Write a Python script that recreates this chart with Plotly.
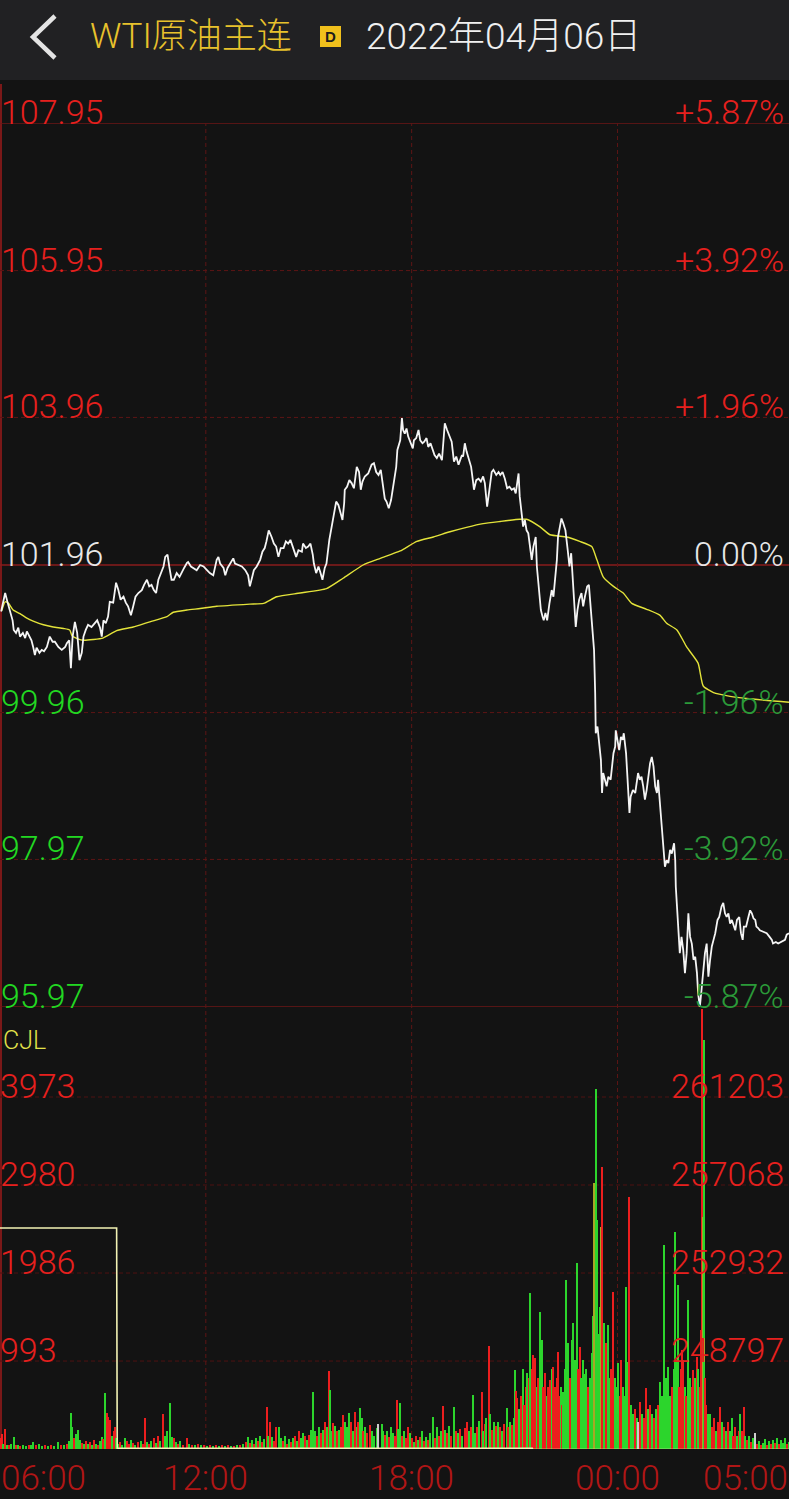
import plotly.graph_objects as go

W, H = 789, 1499

# ---------------- data ----------------
prev_close = 101.96
price_ticks = [107.95, 105.95, 103.96, 101.96, 99.96, 97.97, 95.97]
pct_labels = ["+5.87%", "+3.92%", "+1.96%", "0.00%", "-1.96%", "-3.92%", "-5.87%"]
vol_ticks = [3973, 2980, 1986, 993]
oi_ticks = [261203, 257068, 252932, 248797]
time_ticks = [0, 360, 720, 1080, 1380]          # minutes after 06:00
time_labels = ["06:00", "12:00", "18:00", "00:00", "05:00"]

price_min = [2,9,13,17,22,24,28,32,35,40,44,47,51,55,58,61,64,69,73,77,82,87,92,96,102,108,114,117,121,124,
127,131,135,139,143,146,150,154,160,166,170,175,178,181,185,189,192,198,203,207,211,216,220,224,229,233,237,242,248,252,
257,261,265,269,273,277,282,286,289,293,296,300,304,309,314,318,322,327,329,334,338,344,350,
356,362,367,373,379,382,385,391,394,398,402,408,411,417,423,429,434,437,440,444,449,455,459,463,466,470,475,479,483,487,
491,496,500,504,508,513,518,522,528,530,535,539,543,547,549,553,557,560,564,568,571,576,580,584,588,592,596,599,602,603,
607,611,615,619,624,628,631,634,638,644,650,654,658,662,666,670,673,676,680,684,688,693,695,700,
703,705,708,711,714,718,722,724,728,732,735,739,742,746,749,753,757,760,764,768,773,775,778,782,787,790,794,798,802,805,
808,810,813,816,821,824,827,829,833,837,841,845,848,852,856,860,863,868,872,875,879,883,887,891,895,899,902,905,907,909,
912,915,918,921,924,927,930,933,937,939,941,946,949,951,954,957,961,965,968,971,974,976,979,982,985,989,993,996,999,1002,
1004,1007,1010,1013,1017,1020,1023,1027,1030,1033,1037,1039,
1041,1042,1045,1047,1051,1053,1055,1058,1061,1064,1068,1073,1076,1077,1080,1083,1086,1089,1091,1095,
1097,1099,1101,1103,1107,1111,1114,1116,1119,1122,1125,1128,1131,1134,1137,1140,1143,1146,1149,1151,
1154,1157,1160,1163,1166,1169,1172,1175,1179,1181,1182,1185,1187,1189,1192,1195,1198,1201,1204,1207,
1210,1213,1216,1219,1221,1224,1227,1230,1233,1236,1239,1242,1245,1248,1251,1255,1258,1262,1265,1268,
1271,1274,1277,1280,1283,1286,1289,1293,1296,1299,1301,1305,1309,1312,1315,1318,1321,1323,1326,1329,
1335,1341,1346,1350,1352,1357,1361,1367,1373,1376,1380]

price_val = [101.33,101.58,101.46,101.35,101.21,101.08,101.04,101.11,100.99,101.04,100.97,101.06,100.99,100.94,100.85,100.74,100.84,100.77,100.81,100.79,
100.85,100.99,100.92,100.92,100.85,100.81,100.85,100.90,100.94,100.56,100.99,101.19,101.04,100.67,100.77,100.99,101.08,101.15,101.12,101.17,
101.21,101.11,100.99,101.21,101.17,101.26,101.46,101.45,101.72,101.62,101.49,101.53,101.45,101.40,101.28,101.40,101.53,101.58,101.62,101.69,
101.76,101.67,101.69,101.62,101.58,101.76,101.85,101.94,102.07,102.10,101.94,101.76,101.76,101.85,101.80,101.87,101.92,101.99,102.00,101.94,
101.92,101.89,101.96,
101.94,101.89,101.85,101.82,102.03,102.07,101.98,101.92,101.82,101.92,101.98,102.05,101.98,101.96,101.94,101.89,101.82,101.67,101.78,101.89,
101.94,102.03,102.14,102.19,102.28,102.43,102.34,102.25,102.21,102.07,102.19,102.19,102.28,102.25,102.30,102.19,102.07,102.16,102.14,102.25,
102.19,102.21,102.25,102.10,101.98,101.85,101.94,101.87,101.76,101.92,101.98,102.30,102.46,102.66,102.82,102.77,102.64,102.57,102.80,102.98,
103.02,103.11,103.07,103.00,103.29,103.22,102.98,103.09,103.16,103.20,103.32,103.34,103.22,103.18,103.25,103.04,102.86,102.82,102.73,102.84,
103.07,103.29,103.52,103.65,
103.95,103.79,103.74,103.81,103.70,103.63,103.54,103.65,103.68,103.79,103.65,103.61,103.63,103.68,103.56,103.61,103.52,103.45,103.41,103.47,
103.38,103.65,103.88,103.79,103.68,103.63,103.36,103.43,103.32,103.38,103.45,103.43,103.61,103.50,103.38,103.29,103.11,102.98,103.11,103.13,
103.09,103.16,103.07,102.75,102.98,103.22,103.25,103.18,103.22,103.18,103.22,103.13,103.00,103.02,102.98,103.00,102.93,103.11,103.20,102.89,
102.66,102.48,102.57,102.43,102.39,102.16,102.03,102.21,102.34,101.94,101.76,101.35,101.26,101.21,101.31,101.21,101.44,101.62,101.53,101.76,
102.03,102.34,102.48,102.59,102.53,102.43,102.16,101.94,102.12,101.71,101.53,101.12,101.35,101.49,101.58,101.40,101.53,101.67,101.69,101.40,
100.99,100.81,
100.22,99.68,99.77,99.63,99.32,98.87,99.14,99.05,98.96,99.09,99.05,99.41,99.50,99.72,99.59,99.45,99.63,99.59,99.68,99.41,
99.14,98.87,98.60,98.82,98.91,98.87,99.09,99.14,99.05,99.09,98.96,98.78,98.91,99.14,99.27,99.36,99.23,98.96,98.87,99.05,
98.78,98.50,98.14,97.87,97.96,97.92,98.10,98.05,98.19,97.96,97.60,97.15,96.83,96.70,96.92,96.74,96.43,96.70,97.24,96.92,
96.83,96.61,96.65,96.43,96.16,95.97,96.20,96.47,96.70,96.83,96.38,96.61,96.79,96.88,96.97,97.15,97.19,97.33,97.38,97.24,
97.19,97.24,97.10,97.15,97.06,97.01,97.15,97.19,96.97,96.88,97.06,97.06,97.19,97.28,97.24,97.17,97.15,97.06,97.04,97.01,
96.99,96.97,96.92,96.88,96.83,96.85,96.83,96.85,96.88,96.95,96.97]

avg_min = [3,9,15,23,35,47,58,76,93,111,122,126,136,146,163,180,204,233,262,292,
303,327,350,379,437,461,484,525,571,600,635,665,700,729,758,787,816,845,875,909,
921,944,962,991,1014,1035,1044,1055,1073,1090,1105,1131,1154,1166,1184,1201,1221,1230,1248,1277,
1306,1380]
avg_val = [101.34,101.46,101.44,101.35,101.30,101.24,101.20,101.15,101.12,101.10,101.08,101.00,100.96,100.94,100.95,100.97,101.07,101.12,101.19,101.26,
101.32,101.35,101.37,101.40,101.43,101.44,101.53,101.58,101.64,101.78,101.96,102.05,102.15,102.28,102.34,102.41,102.47,102.52,102.55,102.58,
102.58,102.48,102.37,102.34,102.28,102.21,102.03,101.80,101.67,101.58,101.44,101.36,101.28,101.17,101.08,100.85,100.63,100.32,100.23,100.18,
100.15,100.10]

vol_min = [0,3,6,9,12,16,19,24,28,32,35,40,45,51,54,58,63,68,73,79,84,89,94,101,107,112,117,121,124,127,
130,133,137,140,143,147,150,154,157,161,164,168,171,175,178,180,184,187,190,192,196,199,201,204,
206,210,213,219,222,226,229,233,236,241,247,250,254,257,261,264,269,273,276,280,
286,289,292,297,301,304,308,311,315,320,327,331,336,341,346,352,357,362,367,373,
378,383,388,394,399,404,409,415,420,425,430,434,437,441,444,448,451,455,458,462,
467,469,472,476,479,483,488,492,495,499,502,506,509,513,516,520,523,527,530,534,
537,541,544,548,551,555,558,562,565,569,572,576,578,581,583,586,590,593,597,601,
604,607,611,614,618,621,624,627,630,633,635,639,642,648,651,655,659,662,668,670,
674,677,681,684,688,691,694,697,
700,703,707,710,714,717,721,724,728,731,735,738,742,745,749,752,758,761,765,768,
772,776,779,782,786,789,795,798,801,805,808,814,817,821,824,828,831,835,838,843,
845,849,851,855,857,861,864,868,871,875,878,882,887,889,892,896,899,901,903,905,
908,912,915,917,920,922,924,926,928,930,
933,936,939,941,945,948,950,954,957,959,962,965,968,971,974,976,978,981,983,985,
988,991,994,997,1000,1003,1006,1009,1012,1015,1017,1020,1024,1026,1029,1032,1035,1037,1040,1042,
1045,1047,1050,1052,1054,1056,1059,1061,1063,1066,1069,1073,1076,1078,1081,1084,1087,1090,1093,1096,
1099,1101,1104,1108,1111,1115,1117,1120,1124,1127,1131,1134,1138,1141,1145,1148,1152,1155,1159,1162,
1165,1169,1173,1176,1179,1181,1184,1186,1188,1191,1193,1195,1199,1201,1204,1207,1210,1213,1216,1219,
1222,1224,1227,1229,1230,1231,1233,1236,1239,
1242,1245,1249,1252,1256,1260,1263,1267,1270,1274,1277,1280,1283,1286,1290,1293,1295,1298,1301,1304,
1307,1311,1314,1318,1321,1325,1328,1332,1335,1339,1342,1346,1349,1353,1356,1360,1363,1367,1370,1374,
1377,1380]

vol_val = [120,170,60,226,50,40,60,135,40,50,30,45,35,40,50,80,40,55,30,40,30,50,35,80,40,50,60,90,410,250,
120,170,214,100,70,60,90,60,80,50,100,60,40,90,140,110,635,405,365,327,150,200,250,120,
60,80,40,124,90,60,100,70,50,80,90,60,350,80,60,90,120,70,150,90,
400,150,200,520,140,120,80,60,90,50,120,60,40,50,60,40,50,30,40,30,
45,35,40,30,40,35,30,40,45,60,80,130,70,100,60,120,90,150,80,110,
475,150,310,140,90,250,250,120,90,150,60,110,80,120,150,90,200,120,180,150,
100,160,220,640,200,150,250,180,220,300,250,885,665,200,290,260,200,220,250,385,
300,250,410,300,200,420,250,300,460,350,200,250,180,270,200,150,235,280,282,200,
160,200,140,250,180,150,553,230,
520,150,200,120,250,180,120,80,150,100,130,200,90,140,100,180,365,120,250,150,
200,485,220,180,260,150,477,200,180,230,150,237,300,200,250,609,180,250,320,646,
200,280,350,1162,400,220,300,260,300,250,200,280,460,250,300,270,350,891,650,572,
450,600,899,500,700,854,600,800,1756,900,
1060,1023,700,800,1549,1230,700,854,600,700,778,900,928,700,800,1098,600,700,500,646,
900,1906,1192,800,1230,1418,1000,2095,900,1154,800,1000,850,900,700,800,1080,1500,3004,4058,
2583,1300,1605,2507,3184,1418,900,1200,1399,800,900,1774,800,700,967,600,1000,700,600,1831,
985,2846,500,400,450,350,300,534,400,350,685,450,500,400,350,450,500,759,600,2301,
800,928,600,700,900,2451,1000,1850,700,900,1117,1000,700,600,1681,800,700,891,800,1041,
900,700,1342,4966,2620,4614,800,500,400,
400,250,350,200,300,477,300,250,200,300,200,346,150,250,150,200,400,200,477,150,
100,150,80,120,180,60,90,50,70,110,50,90,60,100,70,120,60,100,70,120,
60,80]

# r = up (red), g = down (green), y = mixed, w = flat
vol_dir = ["r","r","g","r","g","r","g","g","r","g","r","g","g","r","g","g","r","g","g","r",
"g","r","g","g","r","g","r","g","g","g","r","g","g","g","r","g","r","g","r","g",
"r","g","r","g","g","r","g","r","r","r","g","r","r","g",
"g","r","g","g","r","r","g","r","g","r","g","r","r","g","r","g","r","g","r","g",
"r","g","g","g","g","r","g","r","g","r","r","g","r","g","r","g","r","g","r","g",
"r","g","r","g","r","g","r","g","r","g","r","g","r","g","r","g","r","g","r","g",
"r","g","r","g","r","r","g","g","r","g","r","g","r","g","r","g","r","g","g","r",
"g","r","g","g","g","r","g","r","g","r","g","r","g","g","r","g","r","g","r","r",
"g","g","g","r","g","r","g","r","g","g","r","g","r","r","g","g","g","w","g","g",
"r","g","r","g","g","r","r","g",
"g","r","g","r","r","g","r","g","r","g","r","g","r","g","r","g","g","r","g","r",
"g","r","g","r","g","r","g","r","g","r","g","r","r","g","r","g","g","r","g","r",
"g","r","g","r","g","r","g","r","g","r","g","r","g","r","g","r","g","g","r","r",
"g","r","g","r","r","g","g","r","g","r",
"r","r","g","r","g","g","r","r","g","r","r","g","r","r","r","r","r","g","r","g",
"g","g","g","r","g","g","g","g","r","r","g","g","g","g","r","g","g","g","y","g",
"g","g","g","y","r","g","g","r","g","g","r","r","g","g","g","r","r","g","g","g",
"g","r","g","g","r","g","w","r","g","r","r","g","r","g","r","g","r","g","g","g",
"g","g","g","r","g","g","g","g","r","r","r","r","g","r","g","g","r","r","g","r",
"g","r","r","r","y","g","r","r","g",
"g","r","r","g","r","r","g","r","g","r","g","g","r","r","g","r","g","r","r","g",
"r","g","r","g","w","r","g","r","g","g","r","g","r","g","r","g","r","g","g","g",
"r","g"]

oi_min = [0, 204, 205, 931, 932, 1380]
oi_val = [255047, 255047, 244690, 244690, 244640, 244640]

# ---------------- styling ----------------
DIR_COLORS = {"r": "#ff1f1f", "g": "#2fe62f", "y": "#b4b428", "w": "#dcdcdc"}
RED = "#e6201e"
WHITE = "#e8e8e8"
GREEN_L = "#22d822"
GREEN_R = "#2b9a39"
GRID = "#5e1515"
BG = "#131313"
FONT = "Roboto, 'Noto Sans CJK SC', sans-serif"


def px(x):
    return x / W


def py(y):
    return 1 - y / H


price_dom = [py(1007), py(123)]
vol_dom = [py(1449), py(1009)]
vol_top = 5 * 993.25
oi_step = (oi_ticks[0] - oi_ticks[-1]) / 3
oi_range = [oi_ticks[-1] - oi_step, oi_ticks[0] + oi_step]

fig = go.Figure()
fig.add_trace(go.Bar(
    x=vol_min, y=vol_val, width=2.5,
    marker=dict(color=[DIR_COLORS[d] for d in vol_dir], line=dict(width=0)),
    opacity=0.92, xaxis="x2", yaxis="y2", hoverinfo="skip"))
fig.add_trace(go.Scatter(
    x=oi_min, y=oi_val, mode="lines", line=dict(color="#f2f2b4", width=1.6),
    xaxis="x2", yaxis="y3", hoverinfo="skip"))
fig.add_trace(go.Scatter(
    x=avg_min, y=avg_val, mode="lines",
    line=dict(color="#e3e33a", width=1.4, shape="spline", smoothing=0.5),
    hoverinfo="skip"))
fig.add_trace(go.Scatter(
    x=price_min, y=price_val, mode="lines", line=dict(color="#f5f5f5", width=1.8),
    hoverinfo="skip"))

off = dict(visible=False, fixedrange=True)
fig.update_layout(
    width=W, height=H, margin=dict(l=0, r=0, t=0, b=0),
    paper_bgcolor=BG, plot_bgcolor="rgba(0,0,0,0)",
    showlegend=False, hovermode=False,
    xaxis=dict(domain=[0, 1], range=[0, 1380], anchor="y", **off),
    xaxis2=dict(domain=[0, 1], range=[0, 1380], anchor="y2", matches="x", **off),
    yaxis=dict(domain=price_dom, range=[price_ticks[-1], price_ticks[0]], anchor="x", **off),
    yaxis2=dict(domain=vol_dom, range=[0, vol_top], anchor="x2", **off),
    yaxis3=dict(overlaying="y2", range=oi_range, anchor="x2", **off),
    bargap=0,
)

shapes = []
# header bar
shapes.append(dict(type="rect", xref="paper", yref="paper", x0=0, x1=1, y0=py(80), y1=1,
                   fillcolor="#212123", line=dict(width=0), layer="below"))
# back chevron
shapes.append(dict(type="path", xref="paper", yref="paper",
                   path=f"M {px(55)},{py(16)} L {px(33)},{py(37)} L {px(55)},{py(58)}",
                   line=dict(color="#e4e4e4", width=4.5)))
# D badge
shapes.append(dict(type="rect", xref="paper", yref="paper", x0=px(320), x1=px(341),
                   y0=py(47), y1=py(26), fillcolor="#f0c01c", line=dict(width=0)))
# left border
shapes.append(dict(type="line", xref="paper", yref="paper", x0=px(1), x1=px(1),
                   y0=py(1449), y1=py(84), line=dict(color="#7a1818", width=2), layer="below"))
# price grid
for i, v in enumerate(price_ticks):
    solid = (v == prev_close) or i == 0 or i == len(price_ticks) - 1
    shapes.append(dict(type="line", xref="paper", yref="y", x0=0, x1=1, y0=v, y1=v,
                       line=dict(color="#8a1c1c" if v == prev_close else ("#6e1717" if solid else GRID),
                                 width=1.3 if solid else 1, dash="solid" if solid else "4px,3px"),
                       layer="below"))
# volume grid
for v in vol_ticks:
    shapes.append(dict(type="line", xref="paper", yref="y2", x0=0, x1=1, y0=v, y1=v,
                       line=dict(color="#4f1212", width=1, dash="4px,3px"), layer="below"))
# vertical time grid
for t in time_ticks[1:-1]:
    shapes.append(dict(type="line", xref="x", yref="paper", x0=t, x1=t,
                       y0=py(1449), y1=py(123),
                       line=dict(color=GRID, width=1, dash="4px,3px"), layer="below"))
fig.update_layout(shapes=shapes)

ann = []
LBL = 34
for v, p in zip(price_ticks, pct_labels):
    if v > prev_close:
        cl, cr = RED, RED
    elif v < prev_close:
        cl, cr = GREEN_L, GREEN_R
    else:
        cl, cr = WHITE, WHITE
    ann.append(dict(x=0, xref="paper", xanchor="left", xshift=-1, y=v, yref="y",
                    yanchor="bottom", yshift=-11, text=f"{v:.2f}", showarrow=False,
                    font=dict(family=FONT, size=LBL, color=cl, weight=300)))
    ann.append(dict(x=1, xref="paper", xanchor="right", xshift=-3, y=v, yref="y",
                    yanchor="bottom", yshift=-11, text=p, showarrow=False,
                    font=dict(family=FONT, size=LBL, color=cr, weight=300)))
for v in vol_ticks:
    ann.append(dict(x=0, xref="paper", xanchor="left", xshift=-2, y=v, yref="y2",
                    yanchor="bottom", yshift=-11, text=str(v), showarrow=False,
                    font=dict(family=FONT, size=LBL, color=RED, weight=300)))
for v in oi_ticks:
    ann.append(dict(x=1, xref="paper", xanchor="right", xshift=-3, y=v, yref="y3",
                    yanchor="bottom", yshift=-11, text=str(v), showarrow=False,
                    font=dict(family=FONT, size=LBL, color=RED, weight=300)))
ann.append(dict(x=0, xref="paper", xanchor="left", xshift=1, y=py(1040), yref="paper",
                yanchor="middle", text="CJL", showarrow=False,
                font=dict(family=FONT, size=25, color="#e2e24a", weight=300)))
for t, lab in zip(time_ticks, time_labels):
    if t == time_ticks[0]:
        xa, xs = "left", -1
    elif t == time_ticks[-1]:
        xa, xs = "right", 1
    else:
        xa, xs = "center", 0
    ann.append(dict(x=t, xref="x", xanchor=xa, xshift=xs, y=py(1478), yref="paper",
                    yanchor="middle", text=lab, showarrow=False,
                    font=dict(family=FONT, size=35, color="#b01616", weight=300)))
# header texts
ann.append(dict(x=px(88), xref="paper", xanchor="left", y=py(37), yref="paper", yanchor="middle",
                text="WTI原油主连", showarrow=False,
                font=dict(family=FONT, size=35, color="#e8c22c", weight=300)))
ann.append(dict(x=px(330.5), xref="paper", xanchor="center", y=py(36.5), yref="paper", yanchor="middle",
                text="<b>D</b>", showarrow=False,
                font=dict(family="Liberation Sans, sans-serif", size=15, color="#1c1c1c")))
ann.append(dict(x=px(364), xref="paper", xanchor="left", y=py(37), yref="paper", yanchor="middle",
                text="2022年04月06日", showarrow=False,
                font=dict(family=FONT, size=37, color="#f0f0f0", weight=300)))
fig.update_layout(annotations=ann)

page_fix = ("document.body.style.margin='0';document.body.style.padding='0';"
            "document.body.style.background='" + BG + "';"
            "document.documentElement.style.overflow='hidden';")
fig.write_html("out.html", post_script=page_fix, config={"displayModeBar": False})
